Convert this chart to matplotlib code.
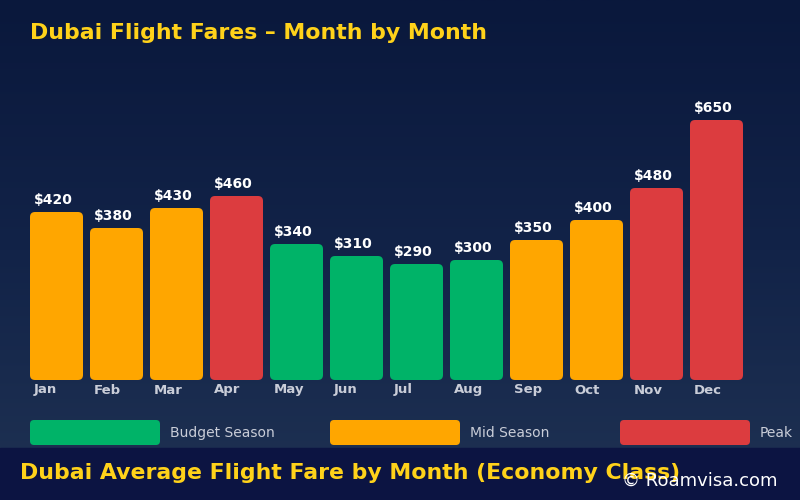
import numpy as np
import matplotlib.pyplot as plt
from matplotlib.patches import FancyBboxPatch, Rectangle
from matplotlib.colors import LinearSegmentedColormap
from matplotlib.transforms import offset_copy

months = ["Jan", "Feb", "Mar", "Apr", "May", "Jun",
          "Jul", "Aug", "Sep", "Oct", "Nov", "Dec"]
fares = [420, 380, 430, 460, 340, 310, 290, 300, 350, 400, 480, 650]
seasons = ["mid", "mid", "mid", "peak", "budget", "budget",
           "budget", "budget", "mid", "mid", "peak", "peak"]
legend_labels = {"budget": "Budget Season", "mid": "Mid Season", "peak": "Peak"}

colors = {"budget": "#00b368", "mid": "#ffa600", "peak": "#dc3c3f"}
gold = "#ffd21a"
label_gray = "#c9cdd8"

W, H = 800, 500
fig = plt.figure(figsize=(8, 5), dpi=100)

# background + decorations in pixel coords
bg = fig.add_axes([0, 0, 1, 1])
bg.set_xlim(0, W)
bg.set_ylim(H, 0)
bg.axis("off")
grad = LinearSegmentedColormap.from_list("g", ["#0a183c", "#122348", "#1f3253"])
bg.imshow(np.linspace(0, 1, 256).reshape(-1, 1), cmap=grad, aspect="auto",
          extent=[0, W, H, 0], zorder=0)
bg.add_patch(Rectangle((0, 448), W, 52, color="#0c1442", zorder=1))

bg.text(30, 33, "Dubai Flight Fares \u2013 Month by Month", color=gold,
        fontsize=15.8, fontweight="bold", va="center", ha="left", zorder=2)
bg.text(20, 473, "Dubai Average Flight Fare by Month (Economy Class)", color=gold,
        fontsize=15.8, fontweight="bold", va="center", ha="left", zorder=2)
bg.text(622, 481, "\u00a9 Roamvisa.com", color="white", fontsize=13,
        va="center", ha="left", zorder=3)

# legend
for key, x0 in zip(["budget", "mid", "peak"], [30, 330, 620]):
    bg.add_patch(FancyBboxPatch((x0, 420), 130, 25,
                                boxstyle="round,pad=0,rounding_size=4",
                                fc=colors[key], ec="none", zorder=2))
    bg.text(x0 + 140, 433, legend_labels[key], color=label_gray, fontsize=10,
            va="center", ha="left", zorder=2)

# bar chart
ax = fig.add_axes([26.5 / W, 120 / H, 720 / W, 280 / H])
ax.set_xlim(-0.5, 11.5)
ax.set_ylim(0, 700)
ax.axis("off")
ax.patch.set_alpha(0)

bw = 53 / 60
px_x = 12 / 720       # data units per pixel along x
px_y = 700 / 280      # data units per pixel along y
for i, (m, v, s) in enumerate(zip(months, fares, seasons)):
    ax.add_patch(FancyBboxPatch((i - bw / 2, 0), bw, v,
                                boxstyle=f"round,pad=0,rounding_size={5 * px_x}",
                                mutation_aspect=px_y / px_x,
                                fc=colors[s], ec="none"))
    ax.text(i - 3 * px_x, v, f"${v}", color="white", fontsize=10, fontweight="bold",
            ha="center", va="center",
            transform=offset_copy(ax.transData, fig=fig, x=0, y=12, units="dots"))
    ax.text(i - bw / 2, 0, m, color=label_gray, fontsize=9.5, fontweight="bold",
            ha="left", va="center",
            transform=offset_copy(ax.transData, fig=fig, x=4, y=-10, units="dots"))

fig.savefig("out.png", dpi=100)
